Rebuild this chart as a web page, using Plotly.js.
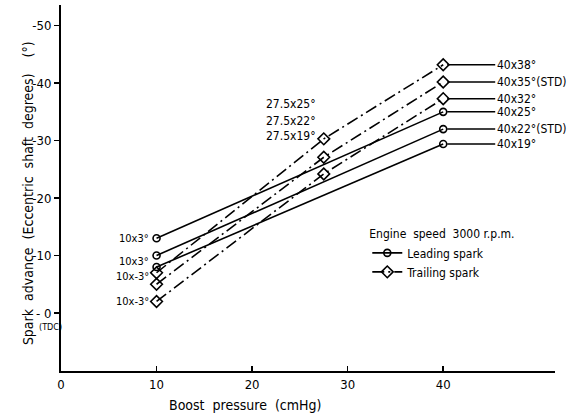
<!DOCTYPE html>
<html>
<head>
<meta charset="utf-8">
<script src="https://cdn.plot.ly/plotly-3.0.1.min.js"></script>
<style>html,body{margin:0;padding:0;background:#fff;}#chart{width:580px;height:416px;}</style>
</head>
<body>
<div id="chart"></div>
<script>
// ---- data (spark advance in eccentric-shaft degrees; negative = advance, axis reads "-50" at top) ----
const leadX = [10, 40];
const trailX = [10, 27.5, 40];
const lead1 = [-13, -35];
const lead2 = [-10, -32];
const lead3 = [-8, -29.4];
const trail1 = [-7, -30.3, -43.2];
const trail2 = [-5, -27.1, -40.2];
const trail3 = [-2, -24.2, -37.3];
const leadEndLabels = ["40x25°", "40x22°(STD)", "40x19°"];
const trailEndLabels = ["40x38°", "40x35°(STD)", "40x32°"];
const midLabels = ["27.5x25°", "27.5x22°", "27.5x19°"];
const startLabels = ["10x3°", "10x3°", "10x-3°", "10x-3°"];
const xTicks = [0, 10, 20, 30, 40];
const yTicks = [0, -10, -20, -30, -40, -50];
const yTickText = ["- 0", "-10", "-20", "-30", "-40", "-50"];
const seriesNames = ["Leading spark", "Trailing spark"];

const FONT = "DejaVu Sans Condensed, DejaVu Sans, sans-serif";
const leadSeries = [lead1, lead2, lead3];
const trailSeries = [trail1, trail2, trail3];

const traces = [];
leadSeries.forEach((ys, i) => {
  traces.push({
    x: leadX, y: ys, type: 'scatter', mode: 'lines+markers',
    name: seriesNames[0], legendgroup: 'lead', showlegend: i === 0,
    line: {color: '#000', width: 1.6},
    marker: {symbol: 'circle-open', size: 7, color: '#000', line: {width: 1.6, color: '#000'}}
  });
});
trailSeries.forEach((ys, i) => {
  traces.push({
    x: trailX, y: ys, type: 'scatter', mode: 'lines+markers',
    name: seriesNames[1], legendgroup: 'trail', showlegend: i === 0,
    line: {color: '#000', width: 1.6, dash: '12px,4px,2px,4px'},
    marker: {symbol: 'diamond-open', size: 9, color: '#000', line: {width: 1.6, color: '#000'}}
  });
});

const annotations = [];
function endLabel(xv, yv, txt) {
  annotations.push({
    x: xv, y: yv, xref: 'x', yref: 'y', text: txt,
    showarrow: true, arrowhead: 0, arrowwidth: 1.5, arrowcolor: '#000',
    ax: 52, ay: 0, xanchor: 'left', standoff: 4,
    font: {family: FONT, size: 12, color: '#000'}
  });
}
leadSeries.forEach((ys, i) => endLabel(leadX[leadX.length - 1], ys[ys.length - 1], leadEndLabels[i]));
trailSeries.forEach((ys, i) => endLabel(trailX[trailX.length - 1], ys[ys.length - 1], trailEndLabels[i]));

const midShift = [35, 36, 38];
trailSeries.forEach((ys, i) => {
  annotations.push({
    x: trailX[1], y: ys[1], xref: 'x', yref: 'y', text: midLabels[i], showarrow: false,
    xanchor: 'right', xshift: -6, yshift: midShift[i],
    font: {family: FONT, size: 12, color: '#000'}
  });
});

const startPts = [lead1[0], lead3[0], trail1[0], trail3[0]];
const startShift = [0, 6, -4, 0];
startPts.forEach((yv, i) => {
  annotations.push({
    x: leadX[0], y: yv, xref: 'x', yref: 'y', text: startLabels[i], showarrow: false,
    xanchor: 'right', xshift: -6, yshift: startShift[i],
    font: {family: FONT, size: 11, color: '#000'}
  });
});

annotations.push({
  xref: 'paper', yref: 'paper', x: 0, y: 0.486, xshift: -43, textangle: -90,
  text: "Spark  advance  (Eccentric  shaft  degrees)    (°)", showarrow: false,
  font: {family: FONT, size: 14, color: '#000'}
});
annotations.push({
  xref: 'x', yref: 'paper', x: 19.3, y: 0, yshift: -34, yanchor: 'middle',
  text: "Boost  pressure  (cmHg)", showarrow: false,
  font: {family: FONT, size: 14, color: '#000'}
});
annotations.push({
  xref: 'paper', yref: 'y', x: 0, y: 0, xshift: -24, yshift: -14,
  text: "(TDC)", showarrow: false,
  font: {family: FONT, size: 9, color: '#000'}
});

const layout = {
  width: 580, height: 416,
  margin: {l: 61, r: 25, t: 5, b: 45},
  paper_bgcolor: '#fff', plot_bgcolor: '#fff',
  font: {family: FONT, color: '#000'},
  xaxis: {
    range: [0, 51.7], tickvals: xTicks, ticks: 'inside', ticklen: 5, tickwidth: 1.5, tickcolor: '#000',
    showline: true, linewidth: 2, linecolor: '#000', showgrid: false, zeroline: false,
    tickfont: {family: FONT, size: 13, color: '#000'}
  },
  yaxis: {
    range: [10.1, -53.6], tickvals: yTicks, ticktext: yTickText, ticks: 'outside', ticklen: 5, tickwidth: 1.5, tickcolor: '#000',
    showline: true, linewidth: 2, linecolor: '#000', showgrid: false, zeroline: false,
    tickfont: {family: FONT, size: 13, color: '#000'}
  },
  showlegend: true,
  legend: {
    x: 0.62, y: 0.405, xanchor: 'left', yanchor: 'top',
    title: {text: 'Engine  speed  3000 r.p.m.', side: 'top', font: {family: FONT, size: 12, color: '#000'}},
    font: {family: FONT, size: 12, color: '#000'},
    bgcolor: 'rgba(0,0,0,0)', itemwidth: 30, tracegroupgap: 0
  },
  annotations: annotations
};

Plotly.newPlot('chart', traces, layout, {displayModeBar: false, staticPlot: true});
</script>
</body>
</html>
